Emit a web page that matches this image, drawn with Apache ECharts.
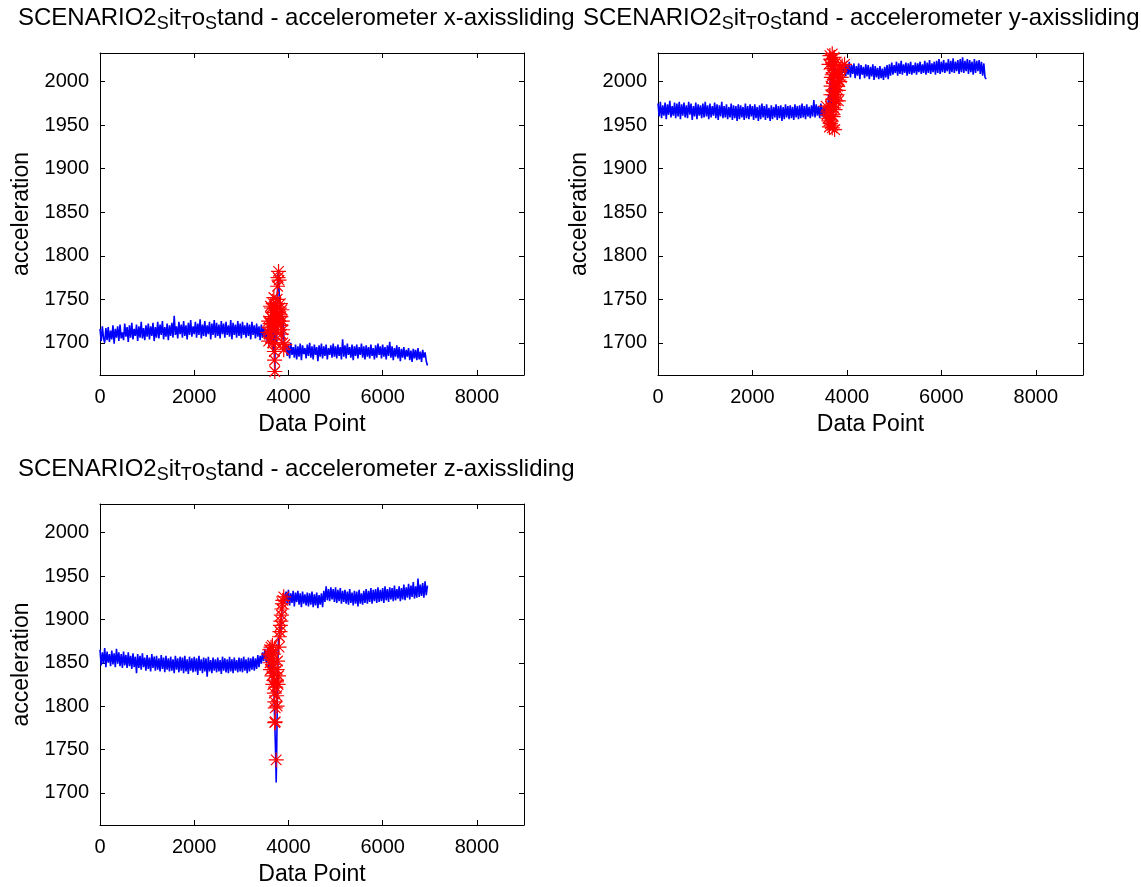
<!DOCTYPE html>
<html><head><meta charset="utf-8">
<script src="https://cdn.jsdelivr.net/npm/echarts@6/dist/echarts.min.js"></script>
<style>html,body{margin:0;padding:0;background:#fff}#c{width:1141px;height:887px}</style>
</head><body><div id="c"></div>
<script>
// ---------- data ----------
const axisNames = ['x', 'y', 'z'];
const xTicks = [0, 2000, 4000, 6000, 8000];
const yTicks = [1700, 1750, 1800, 1850, 1900, 1950, 2000];
const xRange = [0, 9000];
const yRange = [1663, 2033];
const stepA = 25, startA = 0;     // samples of the first plateau (Data Point 0..3500)
const stepB = 25, startB = 3950;  // samples of the second plateau (Data Point 3950..6950)

// x-axis accelerometer
const p1A = [
  1716,1702,1719,1705,1700,1717,1703,1718,1701,1714,
  1704,1720,1699,1716,1706,1719,1702,1721,1705,1712,
  1703,1722,1707,1718,1701,1720,1706,1723,1704,1716,
  1708,1721,1702,1719,1706,1724,1705,1717,1703,1720,
  1707,1722,1704,1719,1708,1723,1702,1718,1706,1724,
  1705,1721,1709,1725,1704,1718,1707,1722,1703,1720,
  1708,1723,1706,1731,1709,1719,1705,1724,1710,1721,
  1706,1725,1708,1720,1704,1723,1709,1726,1707,1719,
  1710,1724,1706,1722,1709,1727,1705,1721,1708,1725,
  1707,1720,1710,1724,1704,1722,1709,1726,1706,1723,
  1708,1721,1705,1725,1710,1722,1706,1724,1709,1720,
  1707,1726,1704,1723,1709,1721,1706,1725,1708,1722,
  1705,1724,1709,1720,1706,1723,1708,1721,1704,1724,
  1709,1720,1705,1722,1707,1719,1703,1721,1706,1718,
  1704];
const p1Tx = [3525,3550,3570,3590,3610,3630,3650,3670,3690,3710,3730,3750,3770,3790,3810,3830,3850,3870,3890,3910,3930];
const p1Ty = [1716,1700,1716,1698,1722,1702,1735,1690,1745,1666,1740,1700,1775,1782,1745,1720,1740,1705,1730,1695,1700];
const p1B = [
  1699,1685,1697,1682,1700,1686,1695,1683,1698,1681,
  1696,1684,1699,1680,1697,1687,1694,1682,1698,1685,
  1700,1683,1696,1681,1698,1686,1695,1679,1697,1684,
  1699,1682,1696,1685,1698,1681,1694,1686,1697,1683,
  1699,1684,1696,1682,1698,1685,1695,1681,1704,1684,
  1697,1682,1699,1686,1695,1683,1698,1680,1696,1685,
  1698,1682,1695,1686,1699,1683,1696,1681,1697,1684,
  1695,1682,1698,1685,1694,1681,1697,1683,1699,1686,
  1696,1682,1698,1684,1695,1681,1697,1685,1701,1683,
  1696,1680,1694,1684,1697,1682,1695,1679,1693,1683,
  1695,1681,1692,1684,1694,1680,1691,1678,1693,1682,
  1692,1680,1694,1681,1690,1678,1692,1683,1689,1679,
  1674];
const p1Mx = [3560,3580,3590,3600,3610,3620,3630,3640,3650,3660,3670,3680,3690,3690,3700,3705,3710,3720,3720,3730,3740,3740,3750,3760,3760,3770,3780,3790,3800,3800,3810,3820,3830,3840,3850,3860,3870,3880,3900,3920,3620,3650,3700,3780,3840,3580,3880];
const p1My = [1712,1702,1718,1710,1722,1730,1705,1740,1715,1700,1735,1745,1725,1752,1690,1680,1667,1700,1720,1745,1728,1738,1712,1750,1725,1765,1775,1782,1772,1730,1740,1732,1745,1720,1710,1738,1725,1700,1692,1698,1742,1728,1735,1722,1730,1725,1715];

// y-axis accelerometer
const p2A = [
  1975,1960,1977,1958,1973,1961,1976,1957,1974,1962,
  1978,1959,1972,1961,1976,1958,1975,1960,1977,1957,
  1974,1961,1976,1959,1973,1958,1977,1962,1975,1956,
  1972,1960,1976,1957,1974,1961,1973,1958,1975,1959,
  1977,1960,1973,1957,1975,1959,1972,1961,1976,1958,
  1974,1956,1973,1960,1977,1958,1972,1959,1974,1957,
  1971,1959,1975,1956,1973,1958,1972,1955,1974,1957,
  1973,1959,1971,1956,1975,1958,1972,1957,1974,1960,
  1972,1956,1974,1958,1971,1955,1973,1957,1975,1959,
  1972,1956,1974,1958,1970,1955,1973,1957,1971,1959,
  1974,1956,1972,1958,1973,1955,1971,1957,1974,1959,
  1972,1957,1973,1958,1971,1956,1974,1959,1972,1957,
  1973,1958,1975,1959,1972,1957,1974,1960,1971,1958,
  1973,1960,1979,1959,1974,1961,1972,1958,1975,1960,
  1971];
const p2Tx = [3525,3550,3570,3590,3610,3630,3650,3670,3690,3710,3730,3750,3770,3790,3810,3830,3850,3870,3890,3910,3930];
const p2Ty = [1960,1972,1962,1950,1985,1948,2010,1955,2030,1965,2020,1975,1990,2005,1985,2015,2000,2020,2008,2018,2010];
const p2B = [
  2022,2006,2020,2008,2023,2005,2019,2009,2021,2004,
  2018,2007,2021,2003,2019,2008,2017,2004,2020,2006,
  2019,2003,2017,2006,2020,2002,2018,2005,2016,2003,
  2018,2004,2015,2002,2017,2005,2019,2003,2020,2007,
  2022,2008,2019,2010,2023,2007,2021,2009,2024,2008,
  2020,2010,2022,2007,2021,2009,2023,2008,2019,2010,
  2022,2008,2021,2011,2023,2009,2020,2010,2024,2008,
  2022,2010,2025,2009,2021,2011,2023,2008,2024,2010,
  2026,2009,2023,2011,2025,2010,2022,2012,2026,2009,
  2024,2011,2027,2010,2023,2012,2025,2009,2026,2011,
  2028,2010,2024,2012,2026,2009,2025,2011,2023,2008,
  2026,2010,2024,2012,2025,2009,2023,2007,2021,2005,
  2003];
const p2Mx = [3560,3600,3620,3630,3640,3650,3660,3665,3670,3675,3680,3690,3690,3700,3700,3710,3710,3720,3720,3730,3740,3740,3750,3760,3770,3780,3790,3800,3810,3820,3830,3840,3850,3860,3880,3900,3950,3650,3680,3700,3720,3690,3710,3620,3640,3760,3600,3660,3580,3820];
const p2My = [1972,1965,1955,1948,1962,1972,1985,1995,2005,2015,2025,2032,1947,2022,1950,1960,2010,1975,1998,2028,1985,1945,1968,1990,1978,2000,1985,1995,2008,1990,2002,2012,2000,2015,2005,2018,2020,1952,1962,1985,2018,2008,1970,2020,2030,2022,1958,2026,1962,1978];

// z-axis accelerometer
const p3A = [
  1865,1847,1862,1849,1867,1845,1863,1850,1860,1846,
  1864,1848,1861,1845,1866,1849,1862,1846,1860,1844,
  1863,1847,1859,1844,1862,1846,1858,1843,1861,1845,
  1857,1838,1860,1844,1858,1842,1861,1845,1856,1841,
  1859,1843,1856,1840,1860,1844,1857,1841,1858,1842,
  1855,1840,1859,1843,1856,1839,1858,1842,1855,1840,
  1857,1841,1854,1838,1858,1842,1855,1839,1857,1841,
  1856,1838,1858,1840,1854,1837,1857,1841,1855,1839,
  1857,1840,1855,1836,1858,1841,1854,1838,1856,1840,
  1855,1834,1857,1840,1853,1838,1856,1841,1854,1839,
  1856,1840,1853,1837,1857,1841,1855,1839,1854,1838,
  1857,1840,1854,1838,1856,1841,1853,1839,1856,1840,
  1855,1839,1857,1841,1854,1838,1856,1840,1855,1842,
  1857,1841,1855,1843,1859,1845,1858,1849,1862,1852,
  1866];
const p3Tx = [3530,3560,3580,3600,3620,3640,3660,3680,3700,3710,3720,3730,3740,3750,3760,3770,3780,3790,3800,3820,3840,3860,3880,3900,3920];
const p3Ty = [1850,1868,1845,1862,1840,1858,1830,1855,1800,1780,1760,1740,1712,1745,1790,1830,1860,1880,1870,1895,1885,1910,1920,1930,1918];
const p3B = [
  1932,1918,1934,1916,1930,1919,1933,1915,1931,1920,
  1933,1917,1930,1914,1932,1918,1929,1916,1931,1915,
  1930,1917,1932,1914,1929,1916,1931,1913,1928,1917,
  1930,1914,1933,1920,1938,1922,1935,1921,1937,1923,
  1935,1920,1937,1919,1934,1921,1936,1918,1933,1920,
  1934,1918,1932,1917,1935,1919,1931,1916,1933,1918,
  1932,1915,1934,1918,1930,1917,1933,1919,1935,1918,
  1933,1920,1936,1918,1934,1921,1935,1919,1937,1920,
  1934,1921,1936,1919,1938,1922,1935,1920,1937,1923,
  1936,1921,1939,1922,1935,1924,1938,1921,1936,1923,
  1940,1922,1937,1925,1941,1923,1939,1926,1943,1924,
  1938,1925,1947,1926,1940,1927,1942,1925,1944,1928,
  1939];
const p3Mx = [3580,3600,3610,3620,3630,3640,3650,3660,3660,3670,3680,3690,3700,3700,3710,3710,3720,3720,3730,3740,3750,3760,3760,3770,3780,3790,3800,3810,3820,3830,3840,3850,3860,3870,3880,3900,3620,3650,3690,3740];
const p3My = [1860,1865,1850,1842,1868,1855,1835,1848,1870,1825,1860,1845,1830,1815,1805,1781,1798,1782,1822,1738,1812,1842,1800,1852,1825,1835,1868,1880,1886,1893,1898,1905,1912,1918,1922,1926,1858,1862,1838,1828];

// ---------- build ----------
const FONT = '"Liberation Sans", Arial, Helvetica, sans-serif';
const plots = [
  {A: p1A, Tx: p1Tx, Ty: p1Ty, B: p1B, Mx: p1Mx, My: p1My},
  {A: p2A, Tx: p2Tx, Ty: p2Ty, B: p2B, Mx: p2Mx, My: p2My},
  {A: p3A, Tx: p3Tx, Ty: p3Ty, B: p3B, Mx: p3Mx, My: p3My}
];
const grids = [
  {left: 100, top: 53, width: 424, height: 322},
  {left: 658, top: 53, width: 425, height: 322},
  {left: 100, top: 504, width: 424, height: 323}
];
const titlePos = [{left: 18, top: 4}, {left: 583, top: 4}, {left: 18, top: 455}];

const lineStyleAxis = {color: '#000', width: 1};
const plain = v => String(v);
const xAxes = [], yAxes = [], series = [], titles = [];
grids.forEach((g, gi) => {
  xAxes.push({
    gridIndex: gi, type: 'value', min: xRange[0], max: xRange[1], position: 'bottom',
    axisLine: {show: true, onZero: false, lineStyle: lineStyleAxis},
    axisTick: {show: true, inside: true, length: 5, customValues: xTicks, lineStyle: lineStyleAxis},
    axisLabel: {customValues: xTicks, formatter: plain, fontSize: 20, color: '#000', fontFamily: FONT, margin: 12},
    splitLine: {show: false},
    name: 'Data Point', nameLocation: 'middle', nameGap: 38,
    nameTextStyle: {fontSize: 23, color: '#000', fontFamily: FONT}
  });
  xAxes.push({
    gridIndex: gi, type: 'value', min: xRange[0], max: xRange[1], position: 'top',
    axisLine: {show: true, onZero: false, lineStyle: lineStyleAxis},
    axisTick: {show: true, inside: true, length: 5, customValues: xTicks, lineStyle: lineStyleAxis},
    axisLabel: {show: false}, splitLine: {show: false}
  });
  yAxes.push({
    gridIndex: gi, type: 'value', min: yRange[0], max: yRange[1], position: 'left',
    axisLine: {show: true, onZero: false, lineStyle: lineStyleAxis},
    axisTick: {show: true, inside: true, length: 5, customValues: yTicks, lineStyle: lineStyleAxis},
    axisLabel: {customValues: yTicks, formatter: plain, fontSize: 20, color: '#000', fontFamily: FONT, margin: 11},
    splitLine: {show: false},
    name: 'acceleration', nameLocation: 'middle', nameGap: 67,
    nameTextStyle: {fontSize: 23, color: '#000', fontFamily: FONT}
  });
  yAxes.push({
    gridIndex: gi, type: 'value', min: yRange[0], max: yRange[1], position: 'right',
    axisLine: {show: true, onZero: false, lineStyle: lineStyleAxis},
    axisTick: {show: true, inside: true, length: 5, customValues: yTicks, lineStyle: lineStyleAxis},
    axisLabel: {show: false}, splitLine: {show: false}
  });
  const p = plots[gi];
  const lineData = [];
  p.A.forEach((v, i) => lineData.push([startA + i * stepA, v]));
  p.Tx.forEach((x, i) => lineData.push([x, p.Ty[i]]));
  p.B.forEach((v, i) => lineData.push([startB + i * stepB, v]));
  series.push({
    type: 'line', xAxisIndex: gi * 2, yAxisIndex: gi * 2, data: lineData,
    showSymbol: false, symbol: 'none', lineStyle: {color: '#0000ff', width: 1.6},
    animation: false, silent: true
  });
  series.push({
    type: 'scatter', xAxisIndex: gi * 2, yAxisIndex: gi * 2,
    data: p.Mx.map((x, i) => [x, p.My[i]]),
    symbol: 'path://M5,0L5,10M0,5L10,5M1.5,1.5L8.5,8.5M8.5,1.5L1.5,8.5',
    symbolSize: 15,
    itemStyle: {color: 'rgba(0,0,0,0)', borderColor: '#ff0000', borderWidth: 1.2, opacity: 1},
    animation: false, silent: true, z: 3
  });
  titles.push({
    left: titlePos[gi].left, top: titlePos[gi].top, padding: 0,
    text: '{b|SCENARIO2}{s|S}{b|it}{s|T}{b|o}{s|S}{b|tand - accelerometer ' + axisNames[gi] + '-axissliding}',
    textStyle: {
      fontWeight: 'normal',
      rich: {
        b: {fontSize: 24, fontFamily: FONT, fontWeight: 'normal', color: '#000', lineHeight: 28},
        s: {fontSize: 18, fontFamily: FONT, fontWeight: 'normal', color: '#000', lineHeight: 20, padding: [13, 0, 0, 0]}
      }
    }
  });
});

const chart = echarts.init(document.getElementById('c'), null, {renderer: 'canvas'});
chart.setOption({
  backgroundColor: '#fff',
  animation: false,
  title: titles,
  grid: grids,
  xAxis: xAxes,
  yAxis: yAxes,
  series: series
});
</script></body></html>
